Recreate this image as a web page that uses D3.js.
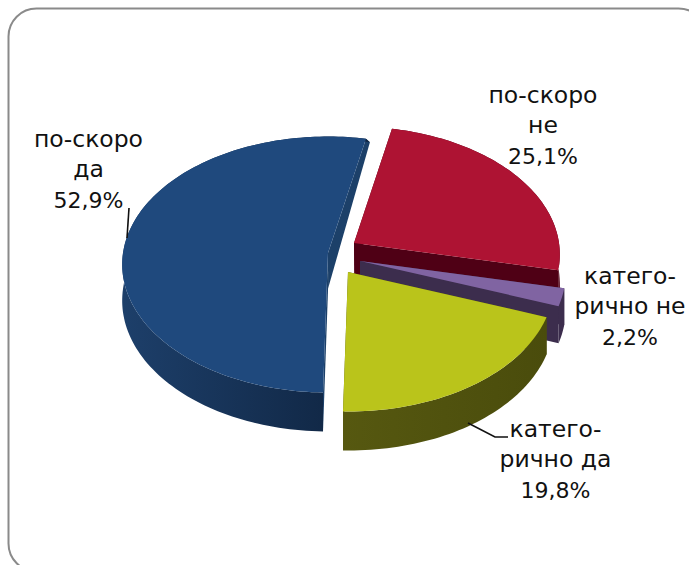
<!DOCTYPE html>
<html>
<head>
<meta charset="utf-8">
<script src="https://cdn.jsdelivr.net/npm/d3@7"></script>
<style>
  html, body { margin: 0; padding: 0; background: #fff; overflow: hidden; }
  svg { display: block; }
  text { font-family: "DejaVu Sans", sans-serif; font-size: 23.5px; fill: #111; }
  tspan.pct { font-size: 22px; }
</style>
</head>
<body>
<div id="chart"></div>
<script>
// order follows the pie, clockwise from the first slice angle
const categories = ["категорично да", "по-скоро да", "по-скоро не", "категорично не"];
const values = [19.8, 52.9, 25.1, 2.2];
const labelLines = [
    ["катего-", "рично да", "19,8%"],
    ["по-скоро", "да", "52,9%"],
    ["по-скоро", "не", "25,1%"],
    ["катего-", "рично не", "2,2%"]
];

const width = 689, height = 565;
const center = {x: 343, y: 255};
const radiusX = 205, radiusY = 128, perspective = 0.09;
const firstSliceAngle = 110 * Math.PI / 180;

const topColors = ["#bac41b", "#1f497d", "#ae1333", "#8064a2"];
const radialColors = ["#4f5110", "#1c4069", "#4f0015", "#3c2d4d"];
const rimColors = [["#565810", "#4a4c0c"], ["#1d3f6a", "#0f2440"], ["#4f0015", "#4f0015"], ["#3c2d4d", "#3c2d4d"]];
// how far each slice is pulled out of the pie
const explode = [[5, 17], [-15, -2], [11, -12], [17, 6]];
// back to front so the near slices cover the far walls
const drawOrder = [2, 1, 3, 0];
const labelPos = [[555.5, 437], [88.5, 147], [543, 103], [630, 284]];
const lineGap = 30.3;

// the lower disc closes in towards the back of the pie
const depth = d3.scaleLinear().domain([137, 255, 393]).range([3, 36, 39]).clamp(true);
const drift = d3.scaleLinear().domain([137, 255]).range([4, 0]).clamp(true);

const svg = d3.select("#chart").append("svg")
    .attr("width", width)
    .attr("height", height);

const defs = svg.append("defs");

svg.append("rect")
    .attr("x", 8.5).attr("y", 8.5)
    .attr("width", 698).attr("height", 563)
    .attr("rx", 28).attr("ry", 28)
    .attr("fill", "#fff")
    .attr("stroke", "#8a8a8a")
    .attr("stroke-width", 2);

const pie = d3.pie().sort(null).value(d => d)
    .startAngle(firstSliceAngle)
    .endAngle(firstSliceAngle + 2 * Math.PI);
const arcs = pie(values);

// disc point -> screen, the near side of the disc is drawn larger
function project(angle, r, i) {
    const u = r * Math.sin(angle), v = -r * Math.cos(angle);
    const s = 1 + perspective * v;
    return [
        center.x + explode[i][0] + radiusX * u * s,
        center.y + explode[i][1] + radiusY * v * s
    ];
}

const line = d3.line();

drawOrder.forEach(i => {
    const a = arcs[i];
    const steps = Math.max(4, Math.ceil((a.endAngle - a.startAngle) * 40));
    const rim = d3.range(steps + 1).map(k =>
        project(a.startAngle + (a.endAngle - a.startAngle) * k / steps, 1, i));
    const apex = project(0, 0, i);
    const down = p => [p[0] + drift(p[1]), p[1] + depth(p[1])];

    const g = svg.append("g").attr("class", "slice");

    const xs = d3.extent(rim, p => p[0]);
    const grad = defs.append("linearGradient")
        .attr("id", "rim" + i)
        .attr("gradientUnits", "userSpaceOnUse")
        .attr("x1", xs[0]).attr("x2", Math.max(xs[1], xs[0] + 1))
        .attr("y1", 0).attr("y2", 0);
    grad.append("stop").attr("offset", 0).attr("stop-color", rimColors[i][0]);
    grad.append("stop").attr("offset", 1).attr("stop-color", rimColors[i][1]);

    // flat cut faces
    [rim[0], rim[rim.length - 1]].forEach(p => {
        g.append("path")
            .attr("d", line([apex, p, down(p), down(apex)]) + "Z")
            .attr("fill", radialColors[i]);
    });

    // curved outer wall
    g.append("path")
        .attr("d", line(rim.concat(rim.map(down).reverse())) + "Z")
        .attr("fill", `url(#rim${i})`);

    // top face
    g.append("path")
        .attr("d", line([apex].concat(rim)) + "Z")
        .attr("fill", topColors[i]);
});

// leader lines
[[[129, 208], [127, 238]], [[468, 423], [495, 437], [508, 437]]].forEach(pts => {
    svg.append("path")
        .attr("d", line(pts))
        .attr("fill", "none")
        .attr("stroke", "#111")
        .attr("stroke-width", 1.6);
});

labelLines.forEach((lines, i) => {
    const t = svg.append("text")
        .attr("text-anchor", "middle");
    lines.forEach((s, k) => {
        t.append("tspan")
            .attr("class", k === lines.length - 1 ? "pct" : null)
            .attr("x", labelPos[i][0])
            .attr("y", labelPos[i][1] + k * lineGap)
            .text(s);
    });
});
</script>
</body>
</html>
